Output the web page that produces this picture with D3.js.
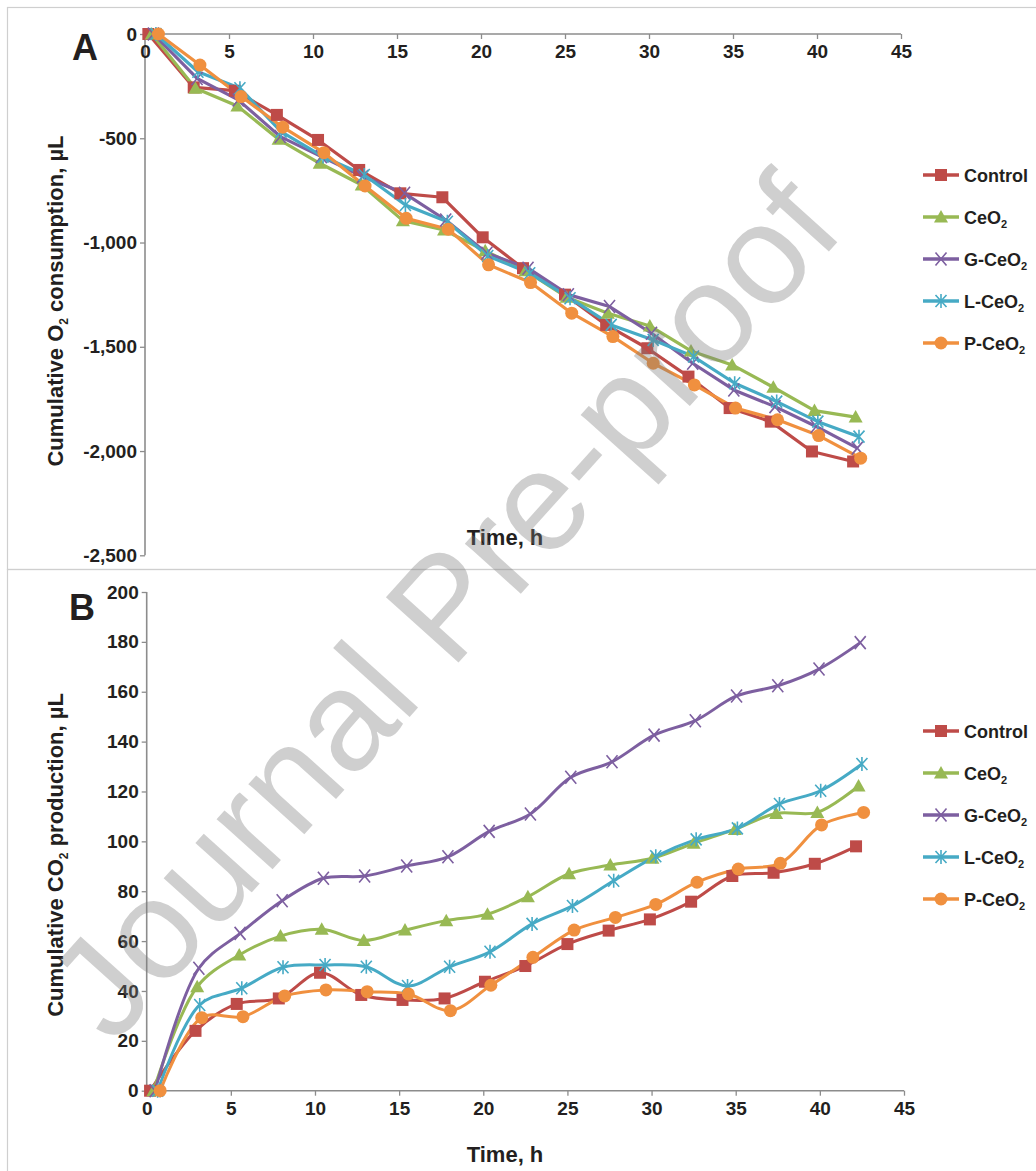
<!DOCTYPE html>
<html><head><meta charset="utf-8">
<script src="https://cdn.jsdelivr.net/npm/d3@7"></script>
<style>
html,body{margin:0;padding:0;background:#fff;}
svg{display:block;font-family:"Liberation Sans",Arial,Helvetica,sans-serif;}
</style></head>
<body>
<svg id="chart" width="1036" height="1171"></svg>
<script>
// ---------- data ----------
const seriesNames = ["Control", "CeO2", "G-CeO2", "L-CeO2", "P-CeO2"];
const xTicks = [0, 5, 10, 15, 20, 25, 30, 35, 40, 45];
const yTicksA = [0, -500, -1000, -1500, -2000, -2500];
const yTicksB = [0, 20, 40, 60, 80, 100, 120, 140, 160, 180, 200];

// sampling times (h) per series
const timeControl = [0.2, 2.9, 5.35, 7.85, 10.3, 12.75, 15.2, 17.7, 20.1, 22.5, 25.0, 27.45, 29.9, 32.35, 34.8, 37.25, 39.7, 42.15];
const timeCeO2    = [0.4, 3.0, 5.5, 7.95, 10.4, 12.9, 15.35, 17.8, 20.25, 22.65, 25.1, 27.55, 30.05, 32.5, 34.95, 37.4, 39.85, 42.3];
const timeGCeO2   = [0.5, 3.1, 5.55, 8.05, 10.5, 12.95, 15.45, 17.9, 20.35, 22.8, 25.2, 27.65, 30.15, 32.6, 35.05, 37.5, 39.95, 42.4];
const timeLCeO2   = [0.65, 3.15, 5.65, 8.1, 10.6, 13.05, 15.5, 18.0, 20.4, 22.9, 25.3, 27.75, 30.25, 32.65, 35.1, 37.6, 40.05, 42.5];
const timePCeO2   = [0.8, 3.27, 5.72, 8.2, 10.65, 13.1, 15.55, 18.05, 20.45, 22.95, 25.4, 27.85, 30.25, 32.7, 35.15, 37.65, 40.1, 42.6];

// Panel A: cumulative O2 consumption (µL)
const o2Control = [0, -256, -272, -388, -508, -652, -764, -783, -975, -1123, -1250, -1395, -1507, -1643, -1794, -1859, -2002, -2050];
const o2CeO2    = [0, -260, -345, -505, -620, -724, -895, -940, -1040, -1135, -1262, -1339, -1400, -1520, -1587, -1694, -1806, -1837];
const o2GCeO2   = [0, -213, -316, -492, -588, -684, -764, -892, -1051, -1123, -1250, -1307, -1435, -1579, -1707, -1787, -1882, -1986];
const o2LCeO2   = [0, -181, -260, -468, -588, -676, -820, -900, -1065, -1147, -1267, -1395, -1467, -1547, -1675, -1763, -1859, -1931];
const o2PCeO2   = [0, -149, -300, -447, -569, -729, -884, -936, -1107, -1192, -1339, -1451, -1579, -1683, -1794, -1850, -1926, -2034];

// Panel B: cumulative CO2 production (µL)
const co2Control = [0, 24, 34.8, 37, 47.3, 38.4, 36.4, 37, 43.7, 50, 58.8, 64.2, 68.7, 75.8, 86.1, 87.4, 91, 98];
const co2CeO2    = [0, 41.7, 54.4, 62, 64.7, 60.2, 64.4, 68.2, 70.8, 77.8, 87, 90.5, 93.2, 99.2, 104.8, 111.2, 111.6, 122.2];
const co2GCeO2   = [0, 49.1, 63.1, 76.2, 85.2, 86.1, 90.1, 93.8, 104, 111, 125.7, 131.9, 142.6, 148.4, 158.3, 162.4, 169.1, 179.7];
const co2LCeO2   = [0, 34.4, 41.1, 49.5, 50.4, 49.7, 42, 49.7, 55.7, 66.9, 74.1, 84.2, 94, 100.8, 105.2, 115, 120.3, 131];
const co2PCeO2   = [0, 29.3, 29.7, 38, 40.4, 39.7, 38.8, 32.1, 42.3, 53.5, 64.4, 69.5, 74.7, 83.6, 88.9, 91.2, 106.6, 111.6];

// ---------- styling ----------
const colors = ["#BE4B48", "#98B954", "#7D5FA0", "#46AAC5", "#F0903F"];
const markers = ["square", "triangle", "x", "star", "circle"];
const times = [timeControl, timeCeO2, timeGCeO2, timeLCeO2, timePCeO2];
const dataA = [o2Control, o2CeO2, o2GCeO2, o2LCeO2, o2PCeO2];
const dataB = [co2Control, co2CeO2, co2GCeO2, co2LCeO2, co2PCeO2];

const svg = d3.select("#chart");
const axisColor = "#8c8c8c";
const font = "bold";

// panel frames
svg.append("rect").attr("x", 7.5).attr("y", 7.5).attr("width", 1060).attr("height", 562)
  .attr("fill", "none").attr("stroke", "#cfcfcf").attr("stroke-width", 1.2);
svg.append("rect").attr("x", 7.5).attr("y", 569.5).attr("width", 1060).attr("height", 620)
  .attr("fill", "none").attr("stroke", "#cfcfcf").attr("stroke-width", 1.2);

function drawMarker(g, type, x, y, color) {
  const s = 6;
  if (type === "square") {
    g.append("rect").attr("x", x - s).attr("y", y - s).attr("width", 2 * s).attr("height", 2 * s).attr("fill", color);
  } else if (type === "triangle") {
    g.append("path").attr("d", `M${x},${y - 7}L${x + 7},${y + 5.5}L${x - 7},${y + 5.5}Z`).attr("fill", color);
  } else if (type === "circle") {
    g.append("circle").attr("cx", x).attr("cy", y).attr("r", 6.5).attr("fill", color);
  } else if (type === "x") {
    g.append("path").attr("d", `M${x - 5.5},${y - 6.5}L${x + 5.5},${y + 6.5}M${x + 5.5},${y - 6.5}L${x - 5.5},${y + 6.5}`)
      .attr("stroke", color).attr("stroke-width", 1.6).attr("fill", "none");
  } else if (type === "star") {
    g.append("path").attr("d", `M${x - 5.5},${y - 6}L${x + 5.5},${y + 6}M${x + 5.5},${y - 6}L${x - 5.5},${y + 6}M${x},${y - 7}L${x},${y + 7}`)
      .attr("stroke", color).attr("stroke-width", 1.6).attr("fill", "none");
  }
}

function labelWithSub(sel, base, sub, rest, subSize) {
  sel.append("tspan").text(base);
  if (sub) {
    sel.append("tspan").attr("font-size", subSize).attr("dy", subSize * 0.45).text(sub);
    if (rest) sel.append("tspan").attr("dy", -subSize * 0.45).text(rest);
  }
}

function legend(y0) {
  const g = svg.append("g");
  seriesNames.forEach((name, i) => {
    const y = y0 + i * 42;
    g.append("line").attr("x1", 923).attr("x2", 959).attr("y1", y).attr("y2", y)
      .attr("stroke", colors[i]).attr("stroke-width", 3.5);
    drawMarker(g, markers[i], 941, y, colors[i]);
    const t = g.append("text").attr("x", 964).attr("y", y + 6.5).attr("font-size", 18)
      .attr("font-weight", font).attr("fill", "#231f20");
    if (name.endsWith("O2")) labelWithSub(t, name.slice(0, -1), "2", null, 11);
    else t.text(name);
  });
}

const fmtComma = d3.format(",d");
const tickFmt = d => fmtComma(d).replace("\u2212", "-");

function panel(cfg) {
  const x = d3.scaleLinear().domain([0, 45]).range(cfg.xr);
  const y = d3.scaleLinear().domain(cfg.yd).range(cfg.yr);
  const g = svg.append("g");

  // y axis
  const ya = g.append("g").attr("transform", `translate(${cfg.xr[0]},0)`)
    .call(d3.axisLeft(y).tickValues(cfg.yTicks).tickSize(5).tickPadding(3).tickFormat(tickFmt));
  // x axis
  const xa = g.append("g").attr("transform", `translate(0,${cfg.xAxisY})`)
    .call(d3.axisBottom(x).tickValues(xTicks).tickSize(5).tickPadding(cfg.xPad));
  [ya, xa].forEach(a => {
    a.select(".domain").attr("stroke", axisColor).attr("stroke-width", 1.6);
    a.selectAll(".tick line").attr("stroke", axisColor).attr("stroke-width", 1.3);
    a.selectAll(".tick text").attr("font-size", 19).attr("font-weight", font)
      .attr("fill", "#231f20").attr("font-family", '"Liberation Sans",Arial,sans-serif');
  });
  ya.select(".domain").attr("d", `M-0,${cfg.yr[0]}V${cfg.yr[1]}`);
  xa.select(".domain").attr("d", `M${cfg.xr[0]},0H${cfg.xr[1]}`);

  // lines
  const line = d3.line().x(d => x(d[0])).y(d => y(d[1])).curve(cfg.curve);
  cfg.data.forEach((vals, i) => {
    const pts = vals.map((v, j) => [times[i][j], v]);
    g.append("path").datum(pts).attr("d", line).attr("fill", "none")
      .attr("stroke", colors[i]).attr("stroke-width", cfg.lw).attr("stroke-linejoin", "round");
  });
  cfg.data.forEach((vals, i) => {
    const mg = g.append("g");
    vals.forEach((v, j) => drawMarker(mg, markers[i], x(times[i][j]), y(v), colors[i]));
  });

  // panel letter
  svg.append("text").attr("x", cfg.letterX).attr("y", cfg.letterY).attr("font-size", 36)
    .attr("font-weight", font).attr("fill", "#231f20").text(cfg.letter);
  // axis titles
  const yt = svg.append("text").attr("transform", `translate(63,${cfg.yTitleY}) rotate(-90)`)
    .attr("text-anchor", "middle").attr("font-size", 22).attr("font-weight", font).attr("fill", "#231f20");
  labelWithSub(yt, cfg.yTitle[0], "2", cfg.yTitle[1], 12);
  svg.append("text").attr("x", 505).attr("y", cfg.xTitleY).attr("text-anchor", "middle")
    .attr("font-size", 22).attr("font-weight", font).attr("fill", "#231f20").text("Time, h");
}

panel({
  xr: [145, 901], yd: [-2500, 0], yr: [555.3, 34], xAxisY: 34, xPad: 6,
  yTicks: yTicksA, data: dataA, curve: d3.curveLinear, lw: 3.2,
  letter: "A", letterX: 72, letterY: 60,
  yTitle: ["Cumulative O", " consumption, µL"], yTitleY: 301, xTitleY: 545
});
panel({
  xr: [146.7, 904], yd: [0, 200], yr: [1090.7, 592], xAxisY: 1090.7, xPad: 6,
  yTicks: yTicksB, data: dataB, curve: d3.curveCatmullRom.alpha(0.5), lw: 3,
  letter: "B", letterX: 69, letterY: 620,
  yTitle: ["Cumulative CO", " production, µL"], yTitleY: 855, xTitleY: 1162
});

legend(175);
legend(731);

// watermark
svg.append("text").attr("transform", "translate(452,614) rotate(-48)")
  .attr("text-anchor", "middle").attr("dominant-baseline", "middle")
  .attr("font-size", 142).attr("fill", "#7a7a7a").attr("fill-opacity", 0.36)
  .attr("font-family", '"Liberation Sans",Arial,sans-serif')
  .text("Journal Pre-proof");
</script>
</body></html>
